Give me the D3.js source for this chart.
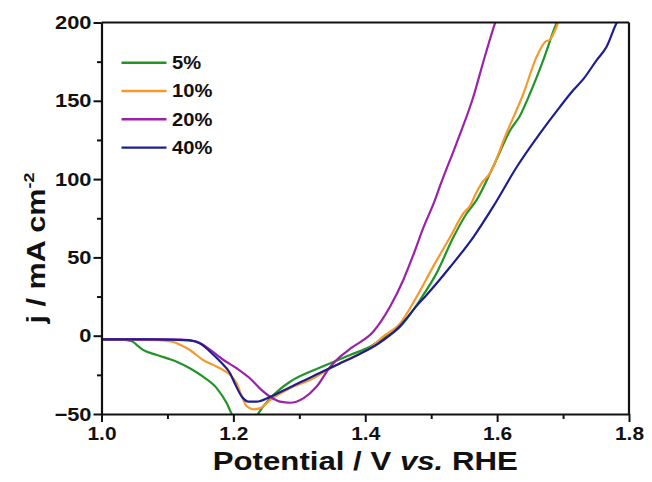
<!DOCTYPE html>
<html>
<head>
<meta charset="utf-8">
<script src="https://cdn.jsdelivr.net/npm/d3@7"></script>
<style>
  html, body { margin: 0; padding: 0; background: #fff; }
  svg { display: block; font-family: "Liberation Sans", Arial, sans-serif; font-weight: bold; }
</style>
</head>
<body>
<script>
// Linear sweep voltammetry curves, potential (V vs. RHE) against current density (mA cm^-2)
const seriesNames = ["5%", "10%", "20%", "40%"];
const seriesColors = ["#22942a", "#f6982a", "#9b22a8", "#1e1e8e"];

const potential5 = [1.0, 1.03, 1.046, 1.055, 1.063, 1.084, 1.114, 1.134, 1.154, 1.175, 1.19, 1.197, 1.21, 1.225, 1.238, 1.256, 1.286, 1.316, 1.347, 1.377, 1.407, 1.427, 1.453, 1.483, 1.508, 1.534, 1.554, 1.569, 1.594, 1.621, 1.634, 1.65, 1.67, 1.69, 1.70];
const current5   = [-2.3, -2.5, -3.5, -6.5, -9.1, -12.3, -16.6, -20.8, -26.2, -33.6, -43.2, -49.6, -60, -62, -49.6, -40, -29.4, -23, -17.6, -12.3, -7, -1.7, 5.7, 22.8, 39.8, 63.2, 78.2, 86.7, 107.9, 132, 140, 154.8, 176, 199.5, 208];

const potential10 = [1.0, 1.05, 1.09, 1.109, 1.12, 1.134, 1.154, 1.175, 1.195, 1.205, 1.213, 1.22, 1.23, 1.24, 1.256, 1.286, 1.316, 1.347, 1.377, 1.407, 1.427, 1.453, 1.478, 1.503, 1.529, 1.549, 1.559, 1.568, 1.576, 1.589, 1.614, 1.64, 1.66, 1.673, 1.68, 1.688, 1.696];
const current10   = [-2.3, -2.5, -3, -4, -6, -9.1, -15.5, -19.8, -25.1, -30.4, -39, -44.9, -47, -46.4, -41, -33.6, -28.3, -20.8, -14.4, -8, -0.6, 7.9, 24.9, 44.1, 63.2, 78.2, 83, 91, 97, 103.7, 129.2, 154.8, 178.2, 187.7, 189, 195.2, 204];

const potential20 = [1.0, 1.08, 1.12, 1.144, 1.165, 1.185, 1.205, 1.225, 1.24, 1.256, 1.271, 1.286, 1.306, 1.326, 1.347, 1.362, 1.38, 1.412, 1.4375, 1.4577, 1.4728, 1.488, 1.5058, 1.5134, 1.5387, 1.5638, 1.579, 1.5967, 1.603];
const current20   = [-2.3, -2.3, -2.5, -3.8, -9.1, -15.5, -20.8, -27.2, -33.6, -39, -42.1, -42.8, -40, -32.6, -19.8, -13.4, -7.5, 2.5, 18.5, 35.6, 51.5, 68.8, 86.7, 95.6, 123.2, 152.4, 174.8, 199.5, 207];

const potential40 = [1.0, 1.08, 1.134, 1.149, 1.17, 1.185, 1.195, 1.202, 1.213, 1.223, 1.235, 1.256, 1.276, 1.30, 1.33, 1.36, 1.39, 1.42, 1.45, 1.48, 1.493, 1.529, 1.564, 1.594, 1.63, 1.665, 1.695, 1.716, 1.731, 1.751, 1.766, 1.781, 1.79];
const current40   = [-2.3, -2.3, -3, -4.9, -12.3, -18.7, -24, -30.4, -39, -42.1, -42.1, -39, -35, -30, -24, -18, -12, -5, 5, 20, 26, 44, 63, 82.4, 107.9, 129.2, 146, 157, 164, 176, 184.5, 199.5, 206];

const xMajorTicks = [1.0, 1.2, 1.4, 1.6, 1.8];
const xMinorTicks = [1.1, 1.3, 1.5, 1.7];
const yMajorTicks = [-50, 0, 50, 100, 150, 200];
const yMinorTicks = [-25, 25, 75, 125, 175];

const xLabel = "Potential / V ";
const xLabelItalic = "vs.";
const xLabelEnd = " RHE";

const series = [
  { name: seriesNames[0], color: seriesColors[0], xs: potential5,  ys: current5 },
  { name: seriesNames[1], color: seriesColors[1], xs: potential10, ys: current10 },
  { name: seriesNames[2], color: seriesColors[2], xs: potential20, ys: current20 },
  { name: seriesNames[3], color: seriesColors[3], xs: potential40, ys: current40 }
];

const W = 652, H = 482;
const plotLeft = 101.5, plotRight = 629, plotTop = 22.5, plotBottom = 414;

const svg = d3.select("body").append("svg").attr("width", W).attr("height", H);

const x = d3.scaleLinear().domain([1.0, 1.8]).range([plotLeft, plotRight]);
const y = d3.scaleLinear().domain([-50, 200]).range([plotBottom, plotTop]);

// horizontally widen glyphs, as the lettering in this figure is slightly broad
function widen(sel, k) {
  sel.each(function () {
    const w = this.getComputedTextLength();
    d3.select(this).attr("textLength", w * k).attr("lengthAdjust", "spacingAndGlyphs");
  });
}

svg.append("defs").append("clipPath").attr("id", "plot-clip")
  .append("rect")
  .attr("x", x(1.0)).attr("y", y(200))
  .attr("width", x(1.8) - x(1.0)).attr("height", y(-50) - y(200));

// curves
const line = d3.line()
  .x(d => x(d[0]))
  .y(d => y(d[1]))
  .curve(d3.curveMonotoneX);

const curves = svg.append("g").attr("clip-path", "url(#plot-clip)");
series.forEach(s => {
  const pts = s.xs.map((v, i) => [v, s.ys[i]]);
  curves.append("path")
    .datum(pts)
    .attr("d", line)
    .attr("fill", "none")
    .attr("stroke", s.color)
    .attr("stroke-width", 2.2)
    .attr("stroke-linejoin", "round");
});

// minor ticks
svg.append("g")
  .attr("transform", `translate(0,${y(-50)})`)
  .call(d3.axisBottom(x).tickValues(xMinorTicks).tickFormat("").tickSize(5).tickSizeOuter(0))
  .call(g => g.select(".domain").remove())
  .call(g => g.selectAll("line").attr("stroke", "#111").attr("stroke-width", 2));

svg.append("g")
  .attr("transform", `translate(${x(1.0)},0)`)
  .call(d3.axisLeft(y).tickValues(yMinorTicks).tickFormat("").tickSize(4.5).tickSizeOuter(0))
  .call(g => g.select(".domain").remove())
  .call(g => g.selectAll("line").attr("stroke", "#111").attr("stroke-width", 2));

// major axes
const xAxis = svg.append("g")
  .attr("transform", `translate(0,${y(-50)})`)
  .call(d3.axisBottom(x).tickValues(xMajorTicks).tickFormat(d3.format(".1f")).tickSize(8).tickSizeOuter(0).tickPadding(5));
xAxis.select(".domain").attr("stroke", "#111").attr("stroke-width", 2.2);
xAxis.selectAll("line").attr("stroke", "#111").attr("stroke-width", 2);
xAxis.selectAll("text").attr("font-size", 19).attr("font-weight", "bold").attr("fill", "#111")
  .attr("font-family", "'Liberation Sans', Arial, sans-serif");
widen(xAxis.selectAll("text"), 1.1);

const yAxis = svg.append("g")
  .attr("transform", `translate(${x(1.0)},0)`)
  .call(d3.axisLeft(y).tickValues(yMajorTicks).tickSize(8).tickSizeOuter(0).tickPadding(2));
yAxis.select(".domain").attr("stroke", "#111").attr("stroke-width", 2.2);
yAxis.selectAll("line").attr("stroke", "#111").attr("stroke-width", 2);
yAxis.selectAll("text").attr("font-size", 19).attr("font-weight", "bold").attr("fill", "#111")
  .attr("font-family", "'Liberation Sans', Arial, sans-serif");
widen(yAxis.selectAll("text"), 1.15);

// top and right frame
svg.append("line")
  .attr("x1", x(1.0)).attr("x2", x(1.8)).attr("y1", y(200)).attr("y2", y(200))
  .attr("stroke", "#111").attr("stroke-width", 2.2);
svg.append("line")
  .attr("x1", x(1.8)).attr("x2", x(1.8)).attr("y1", y(200)).attr("y2", y(-50))
  .attr("stroke", "#111").attr("stroke-width", 2.2);

// axis titles
const xt = svg.append("text")
  .attr("transform", `translate(${(plotLeft + plotRight) / 2},470) scale(1.2,1)`)
  .attr("text-anchor", "middle")
  .attr("font-size", 26)
  .attr("fill", "#111");
xt.append("tspan").text(xLabel);
xt.append("tspan").attr("font-style", "italic").text(xLabelItalic);
xt.append("tspan").text(xLabelEnd);

const yt = svg.append("text")
  .attr("transform", `translate(45,248) rotate(-90) scale(1.2,1)`)
  .attr("text-anchor", "middle")
  .attr("font-size", 25.5)
  .attr("fill", "#111");
yt.append("tspan").text("j / mA cm");
yt.append("tspan").attr("font-size", 15).attr("dy", -11).text("-2");

// legend
const legend = svg.append("g");
series.forEach((s, i) => {
  const ly = 62.7 + i * 28.3;
  legend.append("line")
    .attr("x1", 121.5).attr("x2", 166.5).attr("y1", ly).attr("y2", ly)
    .attr("stroke", s.color).attr("stroke-width", 2.4);
  legend.append("text")
    .attr("x", 172).attr("y", ly + 6.3)
    .attr("font-size", 17.5).attr("fill", "#111")
    .text(s.name);
});
widen(legend.selectAll("text"), 1.15);
</script>
</body>
</html>
